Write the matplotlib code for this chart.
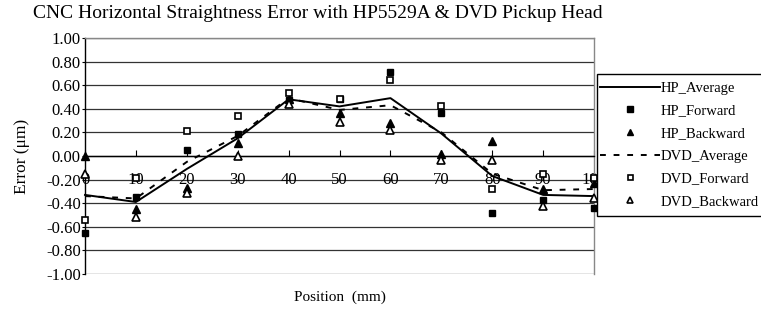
import matplotlib
matplotlib.use('Agg')

import matplotlib.pyplot as plt
from matplotlib.patches import Rectangle
import numpy as np

plt.rcParams['font.family'] = ['Liberation Serif', 'DejaVu Serif']

# values (um)
position = [0, 10, 20, 30, 40, 50, 60, 70, 80, 90, 100]
hp_average = [-0.33, -0.39, -0.11, 0.15, 0.48, 0.42, 0.49, 0.19, -0.17, -0.33, -0.34]
hp_forward = [-0.65, -0.35, 0.05, 0.19, 0.47, 0.48, 0.71, 0.36, -0.48, -0.37, -0.44]
hp_backward = [0.00, -0.45, -0.27, 0.11, 0.48, 0.36, 0.28, 0.02, 0.13, -0.28, -0.23]
dvd_average = [-0.34, -0.36, -0.05, 0.17, 0.49, 0.39, 0.43, 0.20, -0.15, -0.29, -0.28]
dvd_forward = [-0.54, -0.19, 0.21, 0.34, 0.53, 0.48, 0.64, 0.42, -0.28, -0.15, -0.19]
dvd_backward = [-0.15, -0.52, -0.31, 0.00, 0.44, 0.29, 0.22, -0.03, -0.03, -0.42, -0.36]

y_ticks = [-1.0, -0.8, -0.6, -0.4, -0.2, 0.0, 0.2, 0.4, 0.6, 0.8, 1.0]
x_label_level = -0.2   # Excel put the category labels on this row


def init_figure():
    """
    Set up the figure and the plot area in the Excel look
    """
    fig = plt.figure(figsize=(7.61, 3.11), dpi=100)
    ax = fig.add_axes([0.1117, 0.119, 0.669, 0.759])
    ax.set_xlim(0, 100)
    ax.set_ylim(-1.0, 1.0)
    ax.set_yticks(y_ticks)
    ax.set_yticklabels(['%.2f' % v for v in y_ticks], fontsize=12)
    ax.set_xticks(position)
    ax.set_xticklabels([])
    ax.tick_params(axis='x', direction='in', length=4, width=0.8)
    ax.tick_params(axis='y', direction='out', length=2, pad=1, width=0.8)

    ax.spines['bottom'].set_position(('data', 0))
    ax.spines['bottom'].set_linewidth(1.0)
    ax.spines['left'].set_linewidth(1.0)
    for side in ('top', 'right'):
        ax.spines[side].set_color('#888888')
        ax.spines[side].set_linewidth(1.0)

    for v in y_ticks:
        ax.axhline(v, color='#333333', linewidth=0.9, zorder=0)

    for p in position:
        ax.text(p, x_label_level, str(p), ha='center', va='center', fontsize=12, zorder=2)
    return fig, ax


def plot_series(ax):
    """
    Draw the averages as lines and the single runs as markers
    """
    h1, = ax.plot(position, hp_average, color='black', linewidth=1.4,
                  label='HP_Average', clip_on=False, zorder=3)
    h2, = ax.plot(position, hp_forward, linestyle='none', marker='s', markersize=5,
                  color='black', label='HP_Forward', clip_on=False, zorder=4)
    h3, = ax.plot(position, hp_backward, linestyle='none', marker='^', markersize=5.5,
                  color='black', label='HP_Backward', clip_on=False, zorder=4)
    h4, = ax.plot(position, dvd_average, color='black', linewidth=1.4,
                  linestyle=(0, (3, 4)), label='DVD_Average', clip_on=False, zorder=3)
    h5, = ax.plot(position, dvd_forward, linestyle='none', marker='s', markersize=4.5,
                  markerfacecolor='white', markeredgecolor='black', markeredgewidth=1.2,
                  label='DVD_Forward', clip_on=False, zorder=5)
    h6, = ax.plot(position, dvd_backward, linestyle='none', marker='^', markersize=5.5,
                  markerfacecolor='white', markeredgecolor='black', markeredgewidth=1.2,
                  label='DVD_Backward', clip_on=False, zorder=5)
    return [h1, h2, h3, h4, h5, h6]


fig, ax = init_figure()
handles = plot_series(ax)

fig.text(0.418, 0.958, 'CNC Horizontal Straightness Error with HP5529A & DVD Pickup Head',
         ha='center', va='center', fontsize=14)
fig.text(0.029, 0.498, 'Error (\u03bcm)', rotation=90, ha='center', va='center', fontsize=12.5)
fig.text(0.447, 0.045, 'Position  (mm)', ha='center', va='center', fontsize=11)

# legend box runs past the right edge like in the source chart
fig.add_artist(Rectangle((597 / 761, 1 - 216 / 311), 0.3, 142 / 311,
                         transform=fig.transFigure, facecolor='white',
                         edgecolor='black', linewidth=1.0, zorder=1))
fig.legend(handles=handles, loc='upper left', bbox_to_anchor=(0.781, 0.757),
           frameon=False, fontsize=10.5, handlelength=4.1, handletextpad=0.05,
           labelspacing=0.65, borderaxespad=0, markerscale=0.8)

plt.savefig('out.png', dpi=100)
plt.close()
